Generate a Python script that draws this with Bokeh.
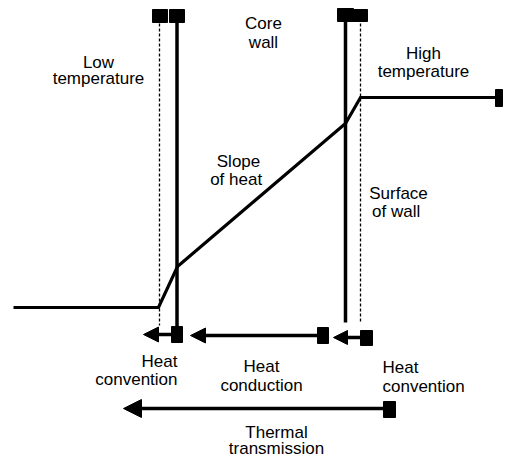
from bokeh.plotting import figure
from bokeh.models import Range1d, Arrow, NormalHead
from bokeh.core.properties import value
from bokeh.embed import file_html
from bokeh.resources import INLINE

# Temperature profile through the wall (diagram coordinates, y grows downward)
profile_x = [13, 158, 177, 345, 360, 499]
profile_y = [307, 307, 266, 123, 97, 97]

# Wall boundaries: solid = core wall faces, dashed = surface film edges
wall_x = [176.5, 345]
wall_bottom = [326, 322]
surface_x = [159, 360]
surface_bottom = [325, 323]
line_top = 18

# Heat flow arrows
arrow_start = [171, 317, 360, 383]
arrow_end = [143, 190, 333, 123]
arrow_y = [334, 335, 337, 408]
arrow_head = [15, 15, 14, 18]

# Marker squares
sq_x0 = [152, 169, 337, 353, 171, 317, 360, 495, 383]
sq_x1 = [167, 184, 353, 367, 182, 328, 372, 502, 395]
sq_y0 = [9, 9, 8, 9, 326, 327, 330, 89, 401]
sq_y1 = [22, 22, 21, 21, 342, 343, 345, 106, 417]

# Labels
center_labels = ["Core", "wall", "Low", "temperature", "High", "temperature",
                 "Slope", "of  heat", "Surface", "of  wall",
                 "Heat", "conduction", "Thermal", "transmission"]
center_x = [263, 263, 98, 98, 423, 423, 238, 238, 398, 398, 261, 261, 276, 276]
center_y = [23, 42, 62, 78, 53, 71, 161, 179, 193, 211, 366, 385, 432, 448]

right_labels = ["Heat", "convention"]
right_x = [177, 177]
right_y = [361, 379]

left_labels = ["Heat", "convention"]
left_x = [382, 382]
left_y = [367, 386]

p = figure(width=503, height=457, output_backend="svg", toolbar_location=None,
           x_range=Range1d(0, 503), y_range=Range1d(457, 0),
           min_border=0, outline_line_color=None)
p.axis.visible = False
p.grid.visible = False
p.background_fill_color = "white"

p.line(profile_x, profile_y, line_color="black", line_width=3.2, line_join="miter")

p.segment(x0=wall_x, y0=[line_top] * 2, x1=wall_x, y1=wall_bottom,
          line_color="black", line_width=3.5)
p.segment(x0=surface_x, y0=[line_top] * 2, x1=surface_x, y1=surface_bottom,
          line_color="black", line_width=1.3, line_dash="3 2")

for xs, xe, y, hs in zip(arrow_start, arrow_end, arrow_y, arrow_head):
    p.add_layout(Arrow(x_start=xs, y_start=y, x_end=xe, y_end=y,
                       line_color="black", line_width=3.5,
                       end=NormalHead(size=hs, fill_color="black", line_color="black", line_width=1)))

p.quad(left=sq_x0, right=sq_x1, top=sq_y0, bottom=sq_y1,
       fill_color="black", line_color="black")

font = value("Liberation Sans")
common = dict(text_baseline="alphabetic", text_font=font, text_font_size="17px", text_color="black")
p.text(x=center_x, y=center_y, text=center_labels, text_align="center", **common)
p.text(x=right_x, y=right_y, text=right_labels, text_align="right", **common)
p.text(x=left_x, y=left_y, text=left_labels, text_align="left", **common)

open("out.html", "w").write(file_html(p, INLINE))
